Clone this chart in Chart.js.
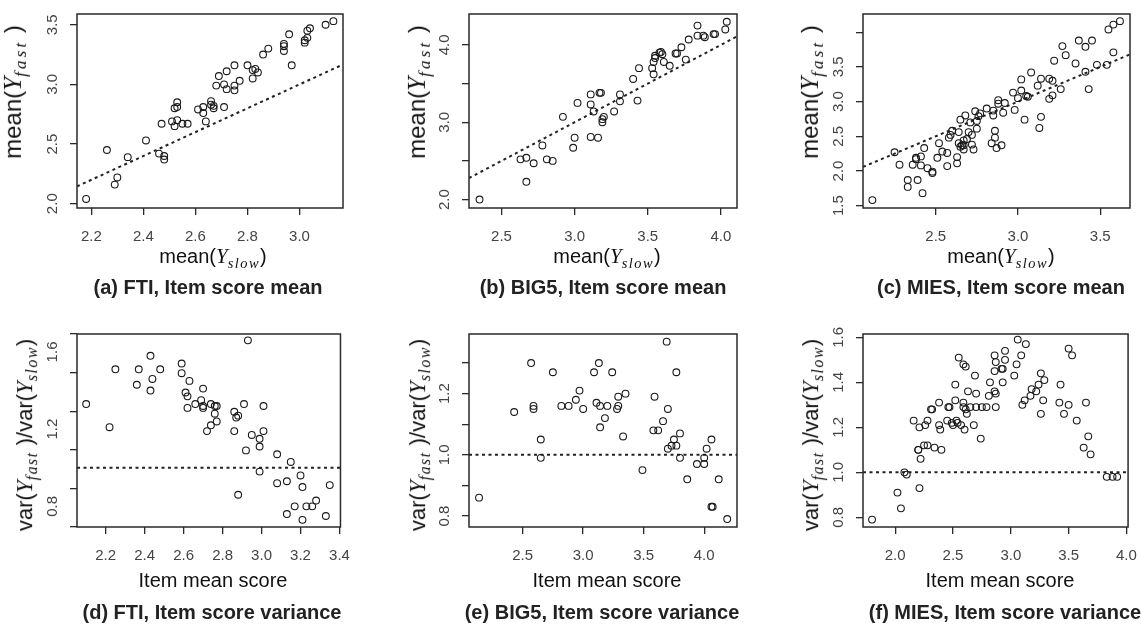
<!DOCTYPE html>
<html>
<head>
<meta charset="utf-8">
<script src="https://cdn.jsdelivr.net/npm/chart.js@4.4.1/dist/chart.umd.min.js"></script>
<style>
  html, body { margin: 0; padding: 0; background: #fff; }
  #page { position: relative; width: 1141px; height: 625px; overflow: hidden; background: #fff;
          font-family: "Liberation Sans", Arial, sans-serif; }
  canvas { position: absolute; }
  .xt, .yt, .yv, .cap { position: absolute; white-space: nowrap; color: #111; }
  .xt { font-size: 20px; transform: translate(-50%, -50%); }
  .yt { font-size: 24px; transform: translate(-50%, -50%) rotate(-90deg); }
  .yv { font-size: 22px; transform: translate(-50%, -50%) rotate(-90deg); }
  .cap { font-size: 20px; font-weight: bold; color: #222; transform: translate(-50%, -50%); }
  .m { font-family: "Liberation Serif", serif; font-style: italic; font-size: 1.05em; }
  sub { font-family: "Liberation Serif", serif; font-style: italic; font-size: 0.72em; letter-spacing: 1.5px; vertical-align: -0.3em; }
  .yt sub { letter-spacing: 3px; }
</style>
</head>
<body>
<div id="page"></div>
<script>
// (a) FTI item score mean
const ftiMeanX = [2.18,2.26,2.29,2.30,2.34,2.41,2.46,2.48,2.48,2.47,2.51,2.52,2.53,2.55,2.57,2.52,2.53,2.53,2.61,2.63,2.63,2.64,2.66,2.66,2.67,2.67,2.71,2.68,2.69,2.72,2.71,2.72,2.75,2.75,2.75,2.77,2.80,2.82,2.82,2.83,2.84,2.86,2.88,2.94,2.94,2.94,2.96,2.97,3.02,3.02,3.03,3.03,3.04,3.10,3.13];
const ftiMeanY = [2.04,2.45,2.16,2.22,2.39,2.53,2.42,2.40,2.37,2.67,2.69,2.65,2.70,2.67,2.67,2.80,2.81,2.85,2.79,2.81,2.76,2.69,2.86,2.83,2.80,2.82,2.81,2.99,3.07,3.11,3.00,2.96,2.99,2.95,3.16,3.03,3.16,3.05,3.12,3.13,3.10,3.25,3.30,3.28,3.32,3.34,3.42,3.16,3.35,3.37,3.39,3.45,3.47,3.50,3.53];

// (b) BIG5 item score mean
const big5MeanX = [2.35,2.63,2.67,2.67,2.72,2.78,2.81,2.85,2.92,2.99,3.00,3.02,3.11,3.11,3.11,3.16,3.13,3.17,3.18,3.19,3.19,3.20,3.27,3.31,3.31,3.40,3.43,3.44,3.53,3.54,3.54,3.55,3.55,3.58,3.59,3.60,3.61,3.65,3.69,3.70,3.73,3.76,3.78,3.84,3.84,3.88,3.89,3.95,3.96,4.03,4.04];
const big5MeanY = [2.00,2.52,2.54,2.23,2.47,2.70,2.52,2.50,3.07,2.67,2.80,3.25,3.36,3.23,2.81,2.80,3.14,3.38,3.38,3.04,3.00,3.07,3.14,3.36,3.27,3.56,3.28,3.70,3.70,3.62,3.78,3.83,3.86,3.90,3.91,3.88,3.78,3.73,3.89,3.89,3.97,3.81,4.07,4.12,4.25,4.12,4.10,4.14,4.14,4.20,4.30];

// (c) MIES item score mean
const miesMeanX = [2.115,2.25,2.28,2.33,2.33,2.36,2.38,2.38,2.39,2.41,2.41,2.42,2.43,2.45,2.48,2.48,2.51,2.52,2.54,2.57,2.57,2.58,2.59,2.60,2.63,2.63,2.64,2.64,2.65,2.65,2.66,2.67,2.67,2.67,2.68,2.69,2.70,2.71,2.72,2.72,2.73,2.74,2.75,2.75,2.76,2.77,2.81,2.85,2.85,2.84,2.86,2.86,2.87,2.88,2.88,2.90,2.91,2.92,2.98,2.97,3.00,3.02,3.02,3.04,3.05,3.06,3.08,3.12,3.13,3.14,3.14,3.19,3.19,3.21,3.21,3.22,3.26,3.27,3.29,3.35,3.37,3.41,3.41,3.43,3.45,3.48,3.54,3.55,3.58,3.58,3.62];
const miesMeanY = [1.58,2.27,2.09,1.87,1.77,2.09,2.17,2.19,1.87,2.08,2.21,1.68,2.33,2.04,1.99,1.97,2.19,2.40,2.28,2.07,2.26,2.48,2.52,2.58,2.20,2.11,2.40,2.56,2.74,2.35,2.37,2.31,2.37,2.44,2.80,2.46,2.56,2.70,2.52,2.38,2.31,2.86,2.61,2.72,2.79,2.83,2.90,2.87,2.80,2.40,2.58,2.48,2.33,3.02,2.97,2.37,2.84,2.98,2.88,3.13,3.05,3.16,3.32,2.74,3.08,3.07,3.42,3.23,2.62,3.33,2.78,3.33,3.04,3.09,3.30,3.59,3.18,3.80,3.67,3.55,3.88,3.79,3.43,3.18,3.88,3.53,3.53,4.04,4.11,3.71,4.16];

// (d) FTI item score variance ratio
const ftiVarX = [2.10,2.22,2.25,2.36,2.37,2.43,2.43,2.44,2.48,2.59,2.59,2.63,2.61,2.62,2.62,2.66,2.69,2.70,2.70,2.70,2.74,2.76,2.77,2.76,2.77,2.74,2.72,2.86,2.88,2.87,2.86,2.91,2.93,2.95,2.99,2.99,3.01,3.01,2.92,2.88,2.99,3.08,3.08,3.13,3.15,3.13,3.17,3.20,3.21,3.21,3.23,3.26,3.28,3.33,3.35];
const ftiVarY = [1.33,1.21,1.51,1.43,1.51,1.40,1.58,1.46,1.51,1.49,1.54,1.45,1.39,1.37,1.31,1.33,1.35,1.32,1.31,1.41,1.33,1.32,1.32,1.28,1.24,1.22,1.19,1.29,1.27,1.26,1.19,1.33,1.66,1.17,1.15,1.11,1.19,1.32,1.09,0.86,0.98,1.07,0.92,0.93,1.03,0.76,0.80,0.96,0.90,0.73,0.80,0.80,0.83,0.75,0.91];

// (e) BIG5 item score variance ratio
const big5VarX = [2.14,2.43,2.57,2.59,2.59,2.65,2.65,2.75,2.82,2.88,2.94,2.97,3.00,3.09,3.13,3.11,3.14,3.14,3.18,3.20,3.24,3.28,3.29,3.29,3.35,3.33,3.49,3.58,3.59,3.62,3.66,3.69,3.70,3.70,3.73,3.75,3.77,3.77,3.80,3.80,3.86,3.94,4.00,4.00,4.02,4.06,4.06,4.07,4.12,4.19];
const big5VarY = [0.86,1.14,1.30,1.16,1.15,1.05,0.99,1.27,1.16,1.16,1.18,1.21,1.15,1.27,1.30,1.17,1.16,1.09,1.12,1.16,1.27,1.15,1.16,1.19,1.20,1.06,0.95,1.08,1.19,1.08,1.11,1.37,1.15,1.02,1.03,1.05,1.03,1.27,1.07,0.99,0.92,0.97,0.99,0.97,1.02,1.05,0.83,0.83,0.92,0.79];

// (f) MIES item score variance ratio
const miesVarX = [1.80,2.02,2.05,2.08,2.10,2.21,2.16,2.21,2.26,2.28,2.20,2.20,2.22,2.25,2.28,2.31,2.32,2.34,2.40,2.38,2.38,2.39,2.45,2.46,2.47,2.49,2.50,2.52,2.52,2.53,2.54,2.55,2.57,2.59,2.61,2.59,2.60,2.61,2.62,2.63,2.65,2.69,2.68,2.70,2.70,2.74,2.75,2.79,2.81,2.82,2.86,2.86,2.87,2.86,2.87,2.87,2.92,2.93,2.93,2.95,2.95,3.03,3.05,3.06,3.09,3.13,3.10,3.12,3.17,3.18,3.22,3.24,3.26,3.26,3.28,3.29,3.42,3.43,3.46,3.50,3.53,3.50,3.57,3.63,3.65,3.67,3.69,3.83,3.88,3.92,2.59];
const miesVarY = [0.79,0.91,0.84,1.00,0.99,0.93,1.23,1.20,1.21,1.23,1.10,1.10,1.06,1.12,1.12,1.28,1.28,1.11,1.10,1.21,1.31,1.19,1.23,1.29,1.29,1.22,1.21,1.39,1.32,1.23,1.22,1.51,1.21,1.48,1.47,1.31,1.19,1.28,1.26,1.36,1.29,1.43,1.21,1.35,1.29,1.15,1.29,1.29,1.34,1.40,1.52,1.45,1.49,1.36,1.35,1.29,1.46,1.46,1.40,1.54,1.50,1.43,1.48,1.59,1.52,1.57,1.30,1.32,1.34,1.37,1.36,1.39,1.44,1.26,1.32,1.41,1.31,1.39,1.26,1.55,1.52,1.30,1.23,1.11,1.31,1.16,1.08,0.98,0.98,0.98,1.29];

// tick labels shown on the (rotated) y axes
const yLabelsA = [2.0, 2.5, 3.0, 3.5];
const yLabelsB = [2.0, 3.0, 4.0];
const yLabelsC = [1.5, 2.0, 2.5, 3.0, 3.5];
const yLabelsD = [0.8, 1.2, 1.6];
const yLabelsE = [0.8, 1.0, 1.2];
const yLabelsF = [0.8, 1.0, 1.2, 1.4, 1.6];

const meanX = 'mean(<span class="m">Y</span><sub>slow</sub>)';
const meanY = 'mean(<span class="m">Y</span><sub>fast</sub> )';
const varY = 'var(<span class="m">Y</span><sub>fast</sub> )/var(<span class="m">Y</span><sub>slow</sub>)';
const itemX = 'Item mean score';

// box = plot region [left, top, right, bottom] in page pixels
const panels = [
    { box: [77, 14, 343, 208], xs: ftiMeanX, ys: ftiMeanY, xr: [2.145, 3.167], yr: [1.964, 3.59], xStep: 0.2, yStep: 0.5, yLabels: yLabelsA, ref: "diag",
      xTitle: meanX, yTitle: meanY, yCls: "yt", xt: [213, 258], yt: [15, 92], cap: "(a) FTI, Item score mean", cp: [208, 287] },
    { box: [469, 14, 737, 208], xs: big5MeanX, ys: big5MeanY, xr: [2.278, 4.11], yr: [1.891, 4.4], xStep: 0.5, yStep: 0.5, yLabels: yLabelsB, ref: "diag",
      xTitle: meanX, yTitle: meanY, yCls: "yt", xt: [607, 258], yt: [419, 92], cap: "(b) BIG5, Item score mean", cp: [603, 287] },
    { box: [863, 14, 1130, 208], xs: miesMeanX, ys: miesMeanY, xr: [2.058, 3.681], yr: [1.466, 4.263], xStep: 0.5, yStep: 0.5, yLabels: yLabelsC, ref: "diag",
      xTitle: meanX, yTitle: meanY, yCls: "yt", xt: [1001, 258], yt: [812, 92], cap: "(c) MIES, Item score mean", cp: [1001, 287] },
    { box: [77, 334, 343, 527], xs: ftiVarX, ys: ftiVarY, xr: [2.053, 3.405], yr: [0.693, 1.693], xStep: 0.2, yStep: 0.2, yLabels: yLabelsD, ref: "one",
      xTitle: itemX, yTitle: varY, yCls: "yv", xt: [213, 580], yt: [26, 435], cap: "(d) FTI, Item score variance", cp: [212, 612] },
    { box: [469, 334, 737, 527], xs: big5VarX, ys: big5VarY, xr: [2.057, 4.271], yr: [0.764, 1.395], xStep: 0.5, yStep: 0.1, yLabels: yLabelsE, ref: "one",
      xTitle: itemX, yTitle: varY, yCls: "yv", xt: [607, 580], yt: [419, 435], cap: "(e) BIG5, Item score variance", cp: [602, 612] },
    { box: [863, 334, 1130, 527], xs: miesVarX, ys: miesVarY, xr: [1.722, 4.014], yr: [0.757, 1.615], xStep: 0.5, yStep: 0.2, yLabels: yLabelsF, ref: "one",
      xTitle: itemX, yTitle: varY, yCls: "yv", xt: [1000, 580], yt: [812, 435], cap: "(f) MIES, Item score variance", cp: [1005, 612] }
];

const page = document.getElementById("page");

// draws the R-style box and the rotated y tick labels
const framePlugin = {
    id: "frame",
    afterDraw(chart, args, opts) {
        const ctx = chart.ctx;
        const a = chart.chartArea;
        const ys = chart.scales.y;
        ctx.save();
        ctx.strokeStyle = "#2a2a2a";
        ctx.lineWidth = 1.5;
        ctx.strokeRect(a.left, a.top, a.right - a.left, a.bottom - a.top);
        ctx.fillStyle = "#444";
        ctx.font = "15px 'Liberation Sans', Arial, sans-serif";
        ctx.textAlign = "center";
        ctx.textBaseline = "middle";
        opts.labels.forEach(v => {
            const py = ys.getPixelForValue(v);
            ctx.save();
            ctx.translate(a.left - 24, py);
            ctx.rotate(-Math.PI / 2);
            ctx.fillText(v.toFixed(1), 0, 0);
            ctx.restore();
        });
        ctx.restore();
    }
};

function addText(cls, html, pos) {
    const d = document.createElement("div");
    d.className = cls;
    d.innerHTML = html;
    d.style.left = pos[0] + "px";
    d.style.top = pos[1] + "px";
    page.appendChild(d);
}

function makePanel(p) {
    const [l, t, r, b] = p.box;
    const padL = 75, padT = 12, padR = 20, padB = 48;
    const canvas = document.createElement("canvas");
    canvas.width = (r - l) + padL + padR;
    canvas.height = (b - t) + padT + padB;
    canvas.style.left = (l - padL) + "px";
    canvas.style.top = (t - padT) + "px";
    page.appendChild(canvas);

    const points = p.xs.map((x, i) => ({ x: x, y: p.ys[i] }));
    const refLine = p.ref === "diag"
        ? [{ x: p.xr[0], y: p.xr[0] }, { x: p.xr[1], y: p.xr[1] }]
        : [{ x: p.xr[0], y: 1 }, { x: p.xr[1], y: 1 }];

    new Chart(canvas, {
        type: "scatter",
        data: {
            datasets: [{
                data: points,
                pointStyle: "circle",
                pointRadius: 3.4,
                pointBorderWidth: 1.1,
                pointBorderColor: "#1a1a1a",
                pointBackgroundColor: "rgba(0,0,0,0)"
            }, {
                data: refLine,
                showLine: true,
                pointRadius: 0,
                borderColor: "#222",
                borderWidth: 2,
                borderDash: [3, 3.5]
            }]
        },
        options: {
            responsive: false,
            animation: false,
            events: [],
            layout: { padding: { left: padL - 20, top: padT, right: padR, bottom: padB - 36 } },
            plugins: { legend: { display: false }, tooltip: { enabled: false }, frame: { labels: p.yLabels } },
            scales: {
                x: {
                    type: "linear", position: "bottom", min: p.xr[0], max: p.xr[1],
                    afterFit: s => { s.height = 36; },
                    border: { display: false },
                    grid: { drawOnChartArea: false, drawTicks: true, tickLength: 7, color: "#2a2a2a", lineWidth: 1.3 },
                    ticks: {
                        stepSize: p.xStep, includeBounds: false, autoSkip: false, maxRotation: 0, minRotation: 0,
                        padding: 13, color: "#444", font: { family: "'Liberation Sans', Arial, sans-serif", size: 15 },
                        callback: v => v.toFixed(1)
                    }
                },
                y: {
                    type: "linear", position: "left", min: p.yr[0], max: p.yr[1],
                    afterFit: s => { s.width = 20; },
                    border: { display: false },
                    grid: { drawOnChartArea: false, drawTicks: true, tickLength: 7, color: "#2a2a2a", lineWidth: 1.3 },
                    ticks: { display: false, stepSize: p.yStep, includeBounds: false }
                }
            }
        },
        plugins: [framePlugin]
    });

    addText("xt", p.xTitle, p.xt);
    addText(p.yCls, p.yTitle, p.yt);
    addText("cap", p.cap, p.cp);
}

panels.forEach(makePanel);
</script>
</body>
</html>
